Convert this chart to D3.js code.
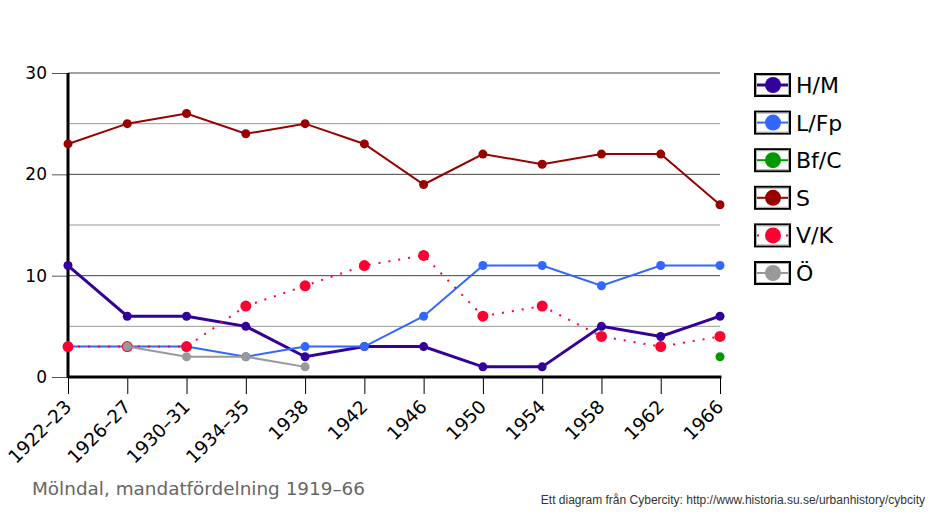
<!DOCTYPE html>
<html>
<head>
  <meta charset="utf-8">
  <script src="https://d3js.org/d3.v7.min.js"></script>
  <style>
    body { margin: 0; background: #fff; }
    svg { display: block; }
  </style>
</head>
<body>
  <script>
    // election years (x categories)
    const years = ["1922–23", "1926–27", "1930–31", "1934–35", "1938", "1942",
      "1946", "1950", "1954", "1958", "1962", "1966"];

    // seats per party, null = not represented
    const hm   = [11, 6, 6, 5, 2, 3, 3, 1, 1, 5, 4, 6];
    const lfp  = [3, 3, 3, 2, 3, 3, 6, 11, 11, 9, 11, 11];
    const bfc  = [null, null, null, null, null, null, null, null, null, null, null, 2];
    const s    = [23, 25, 26, 24, 25, 23, 19, 22, 21, 22, 22, 17];
    const vk   = [3, 3, 3, 7, 9, 11, 12, 6, 7, 4, 3, 4];
    const ovr  = [null, 3, 2, 2, 1, null, null, null, null, null, null, null];

    const yTicks = [0, 10, 20, 30];
    const yMinor = [5, 15, 25];

    const series = [
      { name: "H/M",  values: hm,  color: "#330099", width: 3, dash: null, r: 4.5 },
      { name: "L/Fp", values: lfp, color: "#3366ff", width: 2, dash: null, r: 4.5 },
      { name: "Bf/C", values: bfc, color: "#009900", width: 2, dash: null, r: 4.5 },
      { name: "S",    values: s,   color: "#990000", width: 2, dash: null, r: 4.5 },
      { name: "V/K",  values: vk,  color: "#ff0033", width: 2, dash: "2,8", r: 5.5 },
      { name: "Ö",    values: ovr, color: "#999999", width: 2, dash: null, r: 4.5 }
    ];

    const W = 938, H = 521;
    const plotL = 68, plotR = 720, plotT = 73, plotB = 377;
    const font = "DejaVu Sans, Verdana, sans-serif";

    const svg = d3.select("body").append("svg")
      .attr("width", W).attr("height", H);

    const x = d3.scalePoint().domain(years).range([plotL, plotR]);
    const y = d3.scaleLinear().domain([0, 30]).range([plotB, plotT]);

    // minor grid
    svg.append("g").selectAll("line").data(yMinor).join("line")
      .attr("x1", plotL).attr("x2", plotR)
      .attr("y1", d => y(d)).attr("y2", d => y(d))
      .attr("stroke", "#999").attr("stroke-width", 1);

    // major grid
    svg.append("g").selectAll("line").data(yTicks.slice(1)).join("line")
      .attr("x1", plotL).attr("x2", plotR)
      .attr("y1", d => y(d)).attr("y2", d => y(d))
      .attr("stroke", "#444").attr("stroke-width", 1);

    const yAxis = svg.append("g")
      .attr("transform", `translate(${plotL},0)`)
      .call(d3.axisLeft(y).tickValues(yTicks).tickSize(16).tickPadding(5));
    yAxis.select(".domain").remove();
    yAxis.selectAll(".tick line").attr("stroke", "#555");
    yAxis.selectAll("text")
      .attr("font-family", font)
      .attr("font-size", 17).attr("fill", "#000");

    const xAxis = svg.append("g")
      .attr("transform", `translate(0,${plotB})`)
      .call(d3.axisBottom(x).tickSize(17));
    xAxis.select(".domain").remove();
    xAxis.selectAll(".tick line").attr("stroke", "#000");
    xAxis.selectAll("text")
      .attr("font-family", font)
      .attr("font-size", 18.5).attr("fill", "#000")
      .attr("text-anchor", "end")
      .attr("x", 0).attr("y", 0).attr("dy", 0)
      .attr("transform", "translate(4,31) rotate(-45)");

    // axis lines
    svg.append("line")
      .attr("x1", plotL).attr("x2", plotL).attr("y1", plotT).attr("y2", plotB + 1)
      .attr("stroke", "#000").attr("stroke-width", 3);
    svg.append("line")
      .attr("x1", plotL).attr("x2", plotR + 1.5).attr("y1", plotB).attr("y2", plotB)
      .attr("stroke", "#000").attr("stroke-width", 3);

    const line = d3.line()
      .defined(d => d != null)
      .x((d, i) => x(years[i]))
      .y(d => y(d));

    series.forEach(sr => {
      svg.append("path")
        .datum(sr.values)
        .attr("fill", "none")
        .attr("stroke", sr.color)
        .attr("stroke-width", sr.width)
        .attr("stroke-dasharray", sr.dash)
        .attr("d", line);

      svg.append("g").selectAll("circle")
        .data(sr.values.map((v, i) => ({ v, i })).filter(d => d.v != null))
        .join("circle")
        .attr("cx", d => x(years[d.i]))
        .attr("cy", d => y(d.v))
        .attr("r", sr.r)
        .attr("fill", sr.color);
    });

    // legend
    const legend = svg.append("g").attr("transform", "translate(755,74)");
    series.forEach((sr, i) => {
      const g = legend.append("g").attr("transform", `translate(0,${i * 37.6})`);
      g.append("rect")
        .attr("x", 0).attr("y", 0).attr("width", 35).attr("height", 22)
        .attr("fill", "#fff").attr("stroke", "#000").attr("stroke-width", 2);
      g.append("rect")
        .attr("x", 1.5).attr("y", 1.5).attr("width", 32).attr("height", 19)
        .attr("fill", "none").attr("stroke", "#aaa").attr("stroke-width", 1);
      g.append("line")
        .attr("x1", 2).attr("x2", 33).attr("y1", 11).attr("y2", 11)
        .attr("stroke", sr.color).attr("stroke-width", sr.width)
        .attr("stroke-dasharray", sr.dash ? "2,27" : null);
      g.append("circle")
        .attr("cx", 18).attr("cy", 11).attr("r", 8)
        .attr("fill", sr.color);
      g.append("text")
        .attr("x", 41).attr("y", 11).attr("dy", "0.36em")
        .attr("font-family", font)
        .attr("font-size", 22).attr("fill", "#000")
        .text(sr.name);
    });

    svg.append("text")
      .attr("x", 32).attr("y", 495)
      .attr("font-family", font)
      .attr("font-size", 18.4).attr("fill", "#666")
      .text("Mölndal, mandatfördelning 1919–66");

    svg.append("text")
      .attr("x", 925).attr("y", 504)
      .attr("text-anchor", "end")
      .attr("font-family", "Liberation Sans, Arial, sans-serif")
      .attr("font-size", 12).attr("fill", "#333")
      .text("Ett diagram från Cybercity: http://www.historia.su.se/urbanhistory/cybcity");
  </script>
</body>
</html>
